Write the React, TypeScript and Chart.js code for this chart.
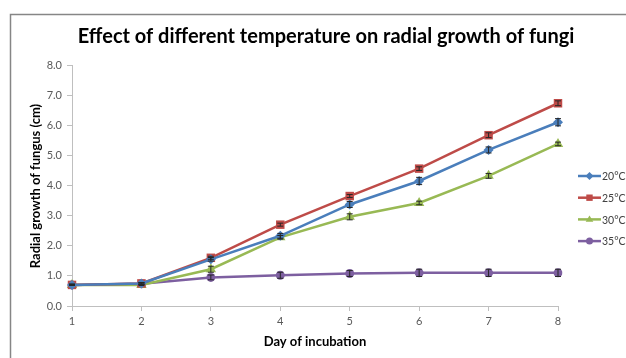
import React, { useEffect, useRef } from "react";
import { Chart, registerables } from "chart.js";

Chart.register(...registerables);

const days = ["1", "2", "3", "4", "5", "6", "7", "8"];
const seriesNames = ["20°C", "25°C", "30°C", "35°C"];
const growth20 = [0.7, 0.75, 1.55, 2.33, 3.37, 4.15, 5.18, 6.1];
const growth25 = [0.7, 0.75, 1.6, 2.7, 3.65, 4.56, 5.67, 6.73];
const growth30 = [0.7, 0.7, 1.22, 2.28, 2.96, 3.42, 4.32, 5.38];
const growth35 = [0.7, 0.74, 0.95, 1.02, 1.08, 1.1, 1.1, 1.1];
const err20 = [0.02, 0.03, 0.06, 0.08, 0.1, 0.12, 0.1, 0.12];
const err25 = [0.02, 0.02, 0.05, 0.05, 0.05, 0.06, 0.08, 0.08];
const err30 = [0.02, 0.02, 0.1, 0.06, 0.1, 0.06, 0.08, 0.06];
const err35 = [0.02, 0.03, 0.08, 0.1, 0.1, 0.12, 0.12, 0.12];
const yTicks = [0, 1, 2, 3, 4, 5, 6, 7, 8];

const colors = ["#4A7EBB", "#BE4B48", "#98B954", "#7D5FA0"];
const styles = ["rectRot", "rect", "triangle", "circle"];
const radii = [5, 6, 6, 4.5];
const FONT = "Lato, 'Open Sans', sans-serif";

function drawMarker(ctx: CanvasRenderingContext2D, style: string, x: number, y: number, r: number, color: string) {
  ctx.save();
  ctx.fillStyle = color;
  ctx.beginPath();
  if (style === "rectRot") {
    ctx.moveTo(x, y - r);
    ctx.lineTo(x + r, y);
    ctx.lineTo(x, y + r);
    ctx.lineTo(x - r, y);
  } else if (style === "rect") {
    ctx.rect(x - r * 0.8, y - r * 0.8, r * 1.6, r * 1.6);
  } else if (style === "triangle") {
    ctx.moveTo(x, y - r);
    ctx.lineTo(x + r * 0.95, y + r * 0.6);
    ctx.lineTo(x - r * 0.95, y + r * 0.6);
  } else {
    ctx.arc(x, y, r, 0, Math.PI * 2);
  }
  ctx.closePath();
  ctx.fill();
  ctx.restore();
}

const errorBars = {
  id: "errorBars",
  afterDatasetsDraw(chart: any) {
    const ctx = chart.ctx;
    const yScale = chart.scales.y;
    ctx.save();
    ctx.strokeStyle = "#262626";
    ctx.lineWidth = 1;
    chart.data.datasets.forEach((ds: any, di: number) => {
      const meta = chart.getDatasetMeta(di);
      ds.data.forEach((v: number, i: number) => {
        const e = ds.errors[i];
        const x = meta.data[i].x;
        const y1 = yScale.getPixelForValue(v + e);
        const y2 = yScale.getPixelForValue(v - e);
        ctx.beginPath();
        ctx.moveTo(x, y1);
        ctx.lineTo(x, y2);
        ctx.moveTo(x - 3, y1);
        ctx.lineTo(x + 3, y1);
        ctx.moveTo(x - 3, y2);
        ctx.lineTo(x + 3, y2);
        ctx.stroke();
      });
    });
    ctx.restore();
  },
};

const decorations = {
  id: "decorations",
  afterDraw(chart: any) {
    const ctx = chart.ctx;
    ctx.save();
    // frame
    ctx.strokeStyle = "#868686";
    ctx.lineWidth = 1.5;
    ctx.beginPath();
    ctx.moveTo(10.5, 400);
    ctx.lineTo(10.5, 14.5);
    ctx.lineTo(640, 14.5);
    ctx.stroke();
    // title
    ctx.fillStyle = "#000000";
    ctx.textAlign = "center";
    ctx.textBaseline = "alphabetic";
    ctx.font = `bold 20px ${FONT}`;
    ctx.fillText("Effect of different temperature on radial growth of fungi", 326, 43);
    // axis titles
    ctx.font = `bold 13px ${FONT}`;
    ctx.textBaseline = "middle";
    ctx.fillText("Day of incubation", 315, 342);
    ctx.save();
    ctx.translate(36, 186);
    ctx.rotate(-Math.PI / 2);
    ctx.fillText("Radial growth of fungus (cm)", 0, 0);
    ctx.restore();
    // legend
    ctx.font = `10.5px ${FONT}`;
    ctx.textAlign = "left";
    seriesNames.forEach((name, i) => {
      const y = 176 + i * 21.7;
      ctx.strokeStyle = colors[i];
      ctx.lineWidth = 2.5;
      ctx.beginPath();
      ctx.moveTo(578, y);
      ctx.lineTo(601, y);
      ctx.stroke();
      drawMarker(ctx, styles[i], 589.5, y, i === 3 ? 3.5 : 4, colors[i]);
      ctx.fillStyle = "#404040";
      ctx.fillText(name, 602, y + 1);
    });
    ctx.restore();
  },
};

export default function App() {
  const ref = useRef<HTMLCanvasElement>(null);
  useEffect(() => {
    document.body.style.margin = "0";
    const allData = [growth20, growth25, growth30, growth35];
    const allErr = [err20, err25, err30, err35];
    const chart = new Chart(ref.current!, {
      type: "line",
      data: {
        labels: days,
        datasets: seriesNames.map((n, i) => ({
          label: n,
          data: allData[i],
          errors: allErr[i],
          borderColor: colors[i],
          backgroundColor: colors[i],
          borderWidth: 2.5,
          pointStyle: styles[i] as any,
          pointRadius: radii[i],
          pointBorderWidth: 0,
          pointBackgroundColor: colors[i],
          tension: 0,
        })) as any,
      },
      options: {
        animation: false,
        responsive: false,
        layout: { padding: { left: 0, right: 68, top: 65, bottom: 0 } },
        plugins: { legend: { display: false }, title: { display: false }, tooltip: { enabled: false } },
        scales: {
          x: {
            type: "category",
            offset: false,
            grid: { drawOnChartArea: false, drawTicks: true, tickLength: 5, color: "#bfbfbf" },
            border: { color: "#bfbfbf" },
            ticks: { color: "#595959", font: { size: 11, family: FONT }, padding: 4, maxRotation: 0 },
            afterFit: (s: any) => {
              s.height = 52;
            },
          },
          y: {
            min: 0,
            max: 8,
            afterBuildTicks: (s: any) => {
              s.ticks = yTicks.map((v) => ({ value: v }));
            },
            grid: { drawOnChartArea: false, drawTicks: true, tickLength: 5, color: "#bfbfbf" },
            border: { color: "#bfbfbf" },
            ticks: {
              color: "#595959",
              font: { size: 11, family: FONT },
              padding: 5,
              callback: (v: any) => Number(v).toFixed(1),
            },
            afterFit: (s: any) => {
              s.width = 72;
            },
          },
        },
      },
      plugins: [errorBars, decorations],
    });
    return () => chart.destroy();
  }, []);
  return (
    <div style={{ width: 626, height: 358, background: "#ffffff" }}>
      <canvas ref={ref} width={626} height={358} style={{ display: "block", width: 626, height: 358 }} />
    </div>
  );
}
